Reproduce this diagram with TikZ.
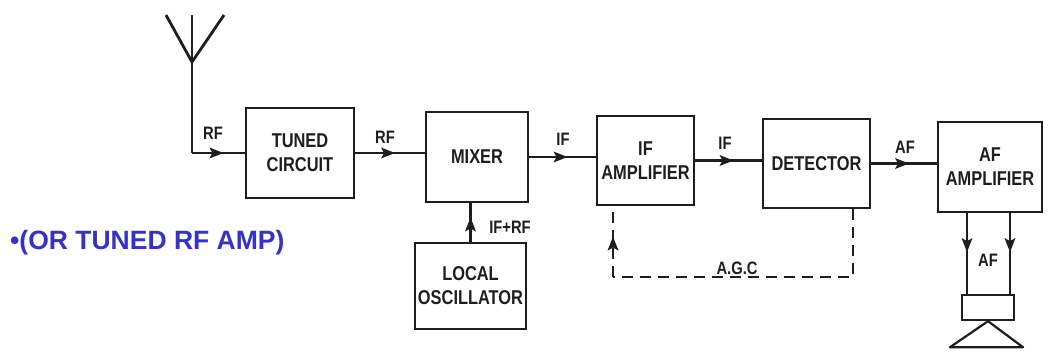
\documentclass[tikz,border=0pt]{standalone}
\usepackage{fontspec}
\usetikzlibrary{calc,arrows.meta,decorations.markings}
\newfontfamily\blockfont[FakeStretch=0.82]{Liberation Sans}
\newfontfamily\notefont{Liberation Sans}
\definecolor{noteblue}{RGB}{51,51,204}
\definecolor{ink}{RGB}{30,30,30}

\begin{document}
\begin{tikzpicture}[x=1pt,y=-1pt,
    block/.style={draw=ink,line width=2.4pt,align=center,inner sep=0pt,text=ink,
      font=\blockfont\bfseries\fontsize{20}{24}\selectfont},
    sig/.style={inner sep=0pt,text=ink,font=\blockfont\bfseries\fontsize{18}{21}\selectfont},
    wire/.style={draw=ink,line width=2.8pt},
    midarrow/.style={postaction={decorate},decoration={markings,
      mark=at position #1 with {\fill[ink,solid](5pt,0pt)--(-9pt,5.5pt)--(-6pt,0pt)--(-9pt,-5.5pt)--cycle;}}},
    midarrow/.default=0.5,
    agcline/.style={wire,dash pattern=on 11pt off 7pt}]
    \useasboundingbox[fill=white](0,0)rectangle(1055,354);
    % blocks
    \node[block,minimum width=108pt,minimum height=90pt](tuned)at(300,153){TUNED\\CIRCUIT};
    \node[block,minimum width=102pt,minimum height=90pt](mixer)at(477,157){MIXER};
    \node[block,minimum width=97pt,minimum height=89pt](ifamp)at(645.5,160.5){IF\\AMPLIFIER};
    \node[block,minimum width=107pt,minimum height=89pt](det)at(816.5,163.5){DETECTOR};
    \node[block,minimum width=104pt,minimum height=90pt](afamp)at(990,167){AF\\AMPLIFIER};
    \node[block,minimum width=111pt,minimum height=86pt](lo)at(470.5,286){LOCAL\\OSCILLATOR};
    \node[block,minimum width=52pt,minimum height=25pt](spk)at(988,307.5){};
    % antenna
    \coordinate(ant)at(192,62);
    \coordinate(antL)at(166,15);
    \coordinate(antR)at(224,15);
    \coordinate(antT)at(192,15);
    \draw[wire](antL)--(ant)--(antR);
    \draw[wire](antT)--(ant |- tuned.west)coordinate(feed);
    % signal path
    \draw[wire,midarrow](feed)--(tuned.west);
    \draw[wire,midarrow](tuned.east)--(tuned.east -| mixer.west);
    \draw[wire,midarrow](mixer.east)--(mixer.east -| ifamp.west);
    \draw[wire,midarrow](ifamp.east)--(ifamp.east -| det.west);
    \draw[wire,midarrow](det.east)--(det.east -| afamp.west);
    \draw[wire,midarrow](lo.north)--(lo.north |- mixer.south);
    % to the speaker
    \draw[wire,midarrow=0.42]([xshift=-23pt]afamp.south)--([xshift=-23pt]afamp.south |- spk.north);
    \draw[wire,midarrow=0.42]([xshift=20pt]afamp.south)--([xshift=20pt]afamp.south |- spk.north);
    \draw[draw=ink,line width=2.2pt,line join=round](spk.south)--++(-38,26)--++(73,0)--cycle;
    % agc loop
    \coordinate(agcR)at(853,277);
    \coordinate(agcL)at(613,277);
    \draw[agcline](agcR |- det.south)--(agcR)--(agcL);
    \draw[agcline,midarrow](agcL)--(agcL |- ifamp.south);
    % labels
    \node[sig](rfA)at(213,133){RF};
    \node[sig](rfB)at(385,137){RF};
    \node[sig](ifA)at(563,139){IF};
    \node[sig](ifB)at(725,143){IF};
    \node[sig](afA)at(905,147){AF};
    \node[sig](ifrf)at(510,227){IF+RF};
    \node[sig](afB)at(988,260){AF};
    \node[sig](agc)at(737,268){A.G.C};
    \node[anchor=base west,inner sep=0pt,text=noteblue,
      font=\notefont\bfseries\fontsize{26.5}{30}\selectfont](note)at(10,249){•(OR TUNED RF AMP)};
\end{tikzpicture}
\end{document}
